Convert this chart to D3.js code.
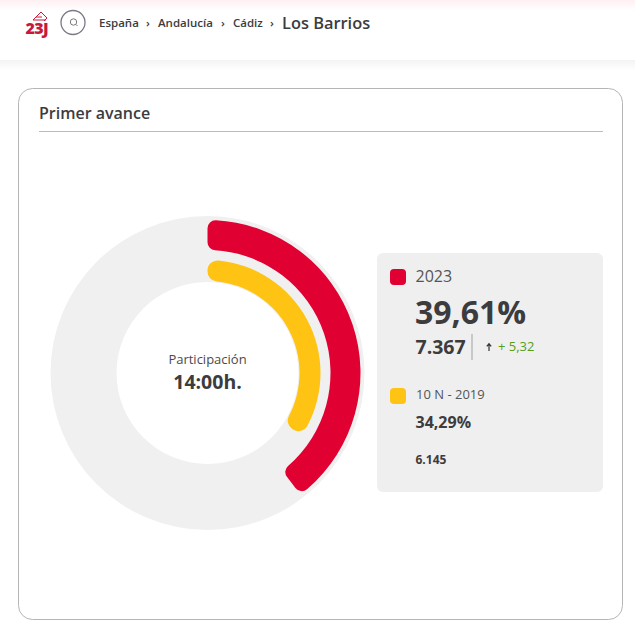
<!DOCTYPE html>
<html>
<head>
<meta charset="utf-8">
<script src="https://cdn.jsdelivr.net/npm/d3@7"></script>
<style>
html,body{margin:0;padding:0;background:#fff;overflow:hidden}
text{font-family:"Open Sans",sans-serif;fill:#3c3c3e}
</style>
</head>
<body>
<div id="w"></div>
<script>
var crumbs = ["España","Andalucía","Cádiz"]
var place = "Los Barrios"
var years = ["2023","10 N - 2019"]
var pct = [39.61,34.29]
var pctLabels = ["39,61%","34,29%"]
var votes = ["7.367","6.145"]
var diff = "+ 5,32"
var colors = ["#e10032","#ffc314"]

var W = 635, H = 629
var svg = d3.select("#w").append("svg")
  .attr("width",W).attr("height",H)
  .style("display","block")

var defs = svg.append("defs")
var grad = defs.append("linearGradient").attr("id","topg")
  .attr("x1",0).attr("x2",0).attr("y1",0).attr("y2",1)
grad.append("stop").attr("offset",0).attr("stop-color","#fff0f3")
grad.append("stop").attr("offset",1).attr("stop-color","#fff")
var sh = defs.append("linearGradient").attr("id","shade")
  .attr("x1",0).attr("x2",0).attr("y1",0).attr("y2",1)
sh.append("stop").attr("offset",0).attr("stop-color","#f3f3f3")
sh.append("stop").attr("offset",1).attr("stop-color","#fff")

// header
svg.append("rect").attr("width",W).attr("height",10).attr("fill","url(#topg)")
svg.append("rect").attr("y",60).attr("width",W).attr("height",10).attr("fill","url(#shade)")

// logo
var logo = svg.append("g")
logo.append("path")
  .attr("d","M33 20L41 12L47 18L44 21M33 20L46 20M36 17L42 17")
  .attr("fill","none").attr("stroke","#c8193c").attr("stroke-width",1)
logo.append("text").attr("x",25.5).attr("y",33.5).text("23J")
  .style("font-size","16px").style("font-weight",800)
  .style("letter-spacing","-.6px").style("fill","#c8193c")

// search button
svg.append("circle").attr("cx",73).attr("cy",22.5).attr("r",12)
  .attr("fill","#fff").attr("stroke","#7d7885").attr("stroke-width",1.3)
svg.append("circle").attr("cx",73.5).attr("cy",22).attr("r",3.2)
  .attr("fill","none").attr("stroke","#777").attr("stroke-width",1)
svg.append("line").attr("x1",76).attr("y1",24.5).attr("x2",77.5).attr("y2",26)
  .attr("stroke","#777").attr("stroke-width",1)

// breadcrumb
var crumbX = [99,158,233], sepX = [148,223,272]
crumbs.forEach(function(c,i){
  svg.append("text").attr("x",crumbX[i]).attr("y",27).text(c)
    .style("font-size","11.5px").style("font-weight",600)
  svg.append("text").attr("x",sepX[i]).attr("y",27).attr("text-anchor","middle").text("›")
    .style("font-size","11.5px").style("font-weight",600)
})
svg.append("text").attr("x",282).attr("y",29).text(place)
  .style("font-size","16.4px").style("font-weight",600)

// card
svg.append("rect").attr("x",18.5).attr("y",88.5).attr("width",604).attr("height",531).attr("rx",14)
  .attr("fill","#fff").attr("stroke","#b5b5b5").attr("stroke-width",1)
svg.append("text").attr("x",39).attr("y",119).text("Primer avance")
  .style("font-size","16px").style("font-weight",600)
svg.append("line").attr("x1",39).attr("x2",603).attr("y1",131.5).attr("y2",131.5)
  .attr("stroke","#bdbdbd")

// donut
var angle = d3.scaleLinear().domain([0,100]).range([0,2*Math.PI])
var radii = [[123,153],[92,113]]
var g = svg.append("g").attr("transform","translate(207.5,373)")

g.append("path")
  .attr("d",d3.arc().innerRadius(91).outerRadius(157).startAngle(0).endAngle(2*Math.PI)())
  .attr("fill","#f0f0f0")

g.selectAll("path.val").data(pct).enter().append("path")
  .attr("class","val")
  .attr("d",function(d,i){
    return d3.arc().innerRadius(radii[i][0]).outerRadius(radii[i][1])
      .cornerRadius(i==0?8:10)
      .startAngle(0).endAngle(angle(d))()
  })
  .attr("fill",function(d,i){return colors[i]})

g.append("text").attr("text-anchor","middle").attr("y",-9).text("Participación")
  .style("font-size","13px").style("fill","#4a4a4a")
g.append("text").attr("text-anchor","middle").attr("y",16).text("14:00h.")
  .style("font-size","19.5px").style("font-weight",700)

// legend box
svg.append("rect").attr("x",377).attr("y",253).attr("width",226).attr("height",239).attr("rx",6)
  .attr("fill","#efefef")
svg.selectAll("rect.sw").data(colors).enter().append("rect")
  .attr("class","sw")
  .attr("x",390).attr("y",function(d,i){return i==0?269:388})
  .attr("width",16).attr("height",16).attr("rx",4)
  .attr("fill",function(d){return d})

svg.append("text").attr("x",415.5).attr("y",282).text(years[0])
  .style("font-size","16px").style("fill","#555")
svg.append("text").attr("x",415).attr("y",324).text(pctLabels[0])
  .style("font-size","32px").style("font-weight",700)
svg.append("text").attr("x",415.5).attr("y",354).text(votes[0])
  .style("font-size","19.5px").style("font-weight",700)
svg.append("line").attr("x1",472).attr("x2",472).attr("y1",334).attr("y2",360)
  .attr("stroke","#bbb").attr("stroke-width",1.5)
// flecha
svg.append("path").attr("d","M489 351L489 344M486.8 346.4L489 343.8L491.2 346.4")
  .attr("fill","none").attr("stroke","#333").attr("stroke-width",1.2)
svg.append("text").attr("x",498).attr("y",351).text(diff)
  .style("font-size","13px").style("fill","#5a9e12")

svg.append("text").attr("x",416).attr("y",399).text(years[1])
  .style("font-size","13px").style("fill","#555")
svg.append("text").attr("x",415.5).attr("y",428).text(pctLabels[1])
  .style("font-size","16px").style("font-weight",700)
svg.append("text").attr("x",415.5).attr("y",464).text(votes[1])
  .style("font-size","12px").style("font-weight",700)
</script>
</body>
</html>
